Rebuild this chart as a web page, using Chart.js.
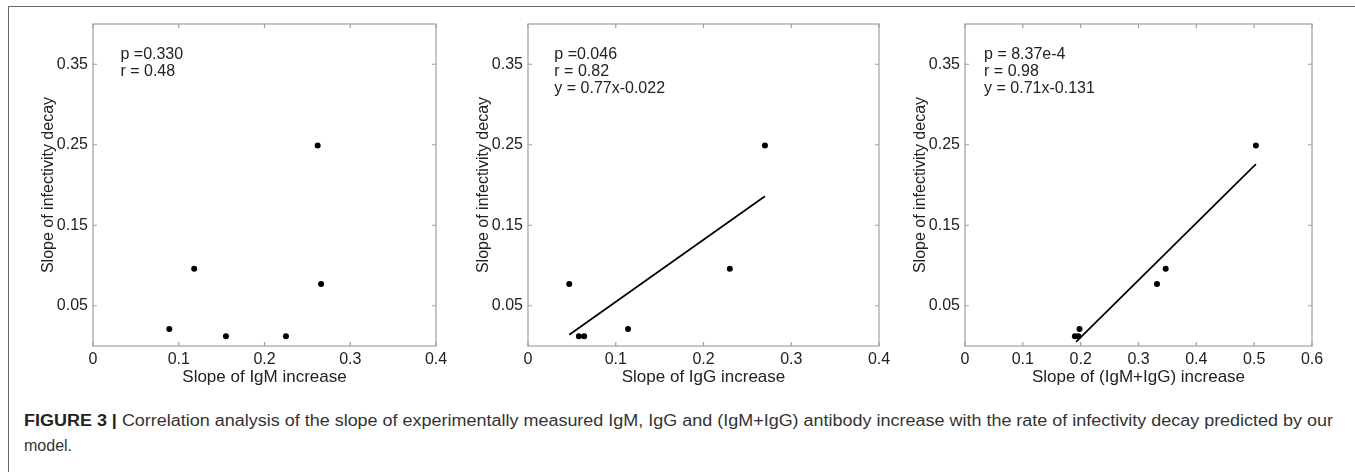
<!DOCTYPE html>
<html>
<head>
<meta charset="utf-8">
<script src="https://cdn.jsdelivr.net/npm/chart.js@4/dist/chart.umd.min.js"></script>
<style>
html, body { margin: 0; padding: 0; background: #fff; }
body { width: 1355px; height: 472px; position: relative; overflow: hidden;
       font-family: "Liberation Sans", Arial, Helvetica, sans-serif; }
#frame { position: absolute; left: 8px; top: 6px; width: 1347px; height: 466px;
         border-left: 1.5px solid #6a6a6a; border-top: 1.5px solid #6a6a6a; box-sizing: border-box; }
canvas.panel { position: absolute; top: 0; }
#caption { position: absolute; left: 24px; top: 408px; font-size: 16px; line-height: 25px;
           color: #333; white-space: nowrap; }
#caption .line { display: block; transform-origin: 0 0; }
#caption b { color: #222; }
</style>
</head>
<body>
<div id="frame"></div>
<canvas class="panel" id="c1" width="470" height="400" style="left:0px"></canvas>
<canvas class="panel" id="c2" width="460" height="400" style="left:440px"></canvas>
<canvas class="panel" id="c3" width="475" height="400" style="left:880px"></canvas>
<div id="caption">
  <span class="line" id="cap1"><b>FIGURE 3 |</b> Correlation analysis of the slope of experimentally measured IgM, IgG and (IgM+IgG) antibody increase with the rate of infectivity decay predicted by our</span>
  <span class="line">model.</span>
</div>
<script>
// data
var yTicks = [0.05, 0.15, 0.25, 0.35];
var yTickLabels = ['0.05', '0.15', '0.25', '0.35'];
var xTicks4 = [0, 0.1, 0.2, 0.3, 0.4];
var xTickLabels4 = ['0', '0.1', '0.2', '0.3', '0.4'];
var xTicks6 = [0, 0.1, 0.2, 0.3, 0.4, 0.5, 0.6];
var xTickLabels6 = ['0', '0.1', '0.2', '0.3', '0.4', '0.5', '0.6'];

var igmX = [0.089, 0.118, 0.155, 0.225, 0.266, 0.262];
var igmY = [0.021, 0.096, 0.012, 0.012, 0.077, 0.249];

var iggX = [0.047, 0.058, 0.064, 0.114, 0.230, 0.270];
var iggY = [0.077, 0.012, 0.012, 0.021, 0.096, 0.249];
var iggFitX = [0.047, 0.270];
var iggFitY = [0.014, 0.186];

var sumX = [0.190, 0.196, 0.198, 0.332, 0.347, 0.503];
var sumY = [0.012, 0.012, 0.021, 0.077, 0.096, 0.249];
var sumFitX = [0.192, 0.503];
var sumFitY = [0.005, 0.226];

var igmNotes = ['p =0.330', 'r = 0.48'];
var iggNotes = ['p =0.046', 'r = 0.82', 'y = 0.77x-0.022'];
var sumNotes = ['p = 8.37e-4', 'r = 0.98', 'y = 0.71x-0.131'];

var FONT = '"Liberation Sans", Arial, Helvetica, sans-serif';
var TEXT = '#222';

function pts(xs, ys) {
	var out = [];
	for (var i = 0; i < xs.length; i++) out.push({x: xs[i], y: ys[i]});
	return out;
}

// box round the plot, inward ticks on all sides, and the p / r / fit notes
var boxPlugin = {
	id: 'box',
	afterDraw: function (chart, args, opts) {
		var a = chart.chartArea, ctx = chart.ctx;
		var xs = chart.scales.x, ys = chart.scales.y;
		ctx.save();
		ctx.strokeStyle = '#a0a0a0';
		ctx.lineWidth = 1.2;
		ctx.strokeRect(a.left, a.top, a.right - a.left, a.bottom - a.top);
		ctx.beginPath();
		xs.ticks.forEach(function (t) {
			var px = xs.getPixelForValue(t.value);
			ctx.moveTo(px, a.bottom); ctx.lineTo(px, a.bottom - 4);
			ctx.moveTo(px, a.top); ctx.lineTo(px, a.top + 4);
		});
		ys.ticks.forEach(function (t) {
			var py = ys.getPixelForValue(t.value);
			ctx.moveTo(a.left, py); ctx.lineTo(a.left + 4, py);
			ctx.moveTo(a.right, py); ctx.lineTo(a.right - 4, py);
		});
		ctx.stroke();
		ctx.fillStyle = TEXT;
		ctx.font = '16px ' + FONT;
		ctx.textBaseline = 'middle';
		ctx.textAlign = 'left';
		var nx = xs.getPixelForValue(opts.noteX);
		var ny = ys.getPixelForValue(opts.noteY);
		opts.lines.forEach(function (s, i) {
			ctx.fillText(s, nx, ny + i * 17);
		});
		ctx.restore();
	}
};

function makePanel(id, cfg) {
	var datasets = [];
	if (cfg.fitX) {
		datasets.push({
			data: pts(cfg.fitX, cfg.fitY),
			showLine: true,
			borderColor: '#000',
			borderWidth: 1.7,
			pointRadius: 0,
			fill: false
		});
	}
	datasets.push({
		data: pts(cfg.x, cfg.y),
		backgroundColor: '#000',
		borderColor: '#000',
		pointRadius: 3,
		borderWidth: 0
	});
	new Chart(document.getElementById(id), {
		type: 'scatter',
		data: {datasets: datasets},
		options: {
			responsive: false,
			animation: false,
			devicePixelRatio: 1,
			layout: {padding: {top: 24, right: cfg.padRight, bottom: 0, left: 0}},
			plugins: {
				legend: {display: false},
				tooltip: {enabled: false},
				box: {lines: cfg.notes, noteX: cfg.noteX, noteY: 0.362}
			},
			scales: {
				x: {
					type: 'linear',
					min: 0, max: cfg.xMax,
					grid: {display: false, drawTicks: false},
					border: {display: false},
					afterBuildTicks: function (s) {
						s.ticks = cfg.xTicks.map(function (v) { return {value: v}; });
					},
					afterFit: function (s) { s.height = 54; },
					ticks: {
						padding: 4,
						color: TEXT,
						font: {family: FONT, size: 16},
						autoSkip: false,
						maxRotation: 0,
						callback: function (v) {
							return cfg.xLabels[cfg.xTicks.indexOf(v)];
						}
					},
					title: {
						display: true,
						text: cfg.xTitle,
						color: TEXT,
						font: {family: FONT, size: 17},
						padding: {top: 0, bottom: 12}
					}
				},
				y: {
					type: 'linear',
					min: 0, max: 0.4,
					grid: {display: false, drawTicks: false},
					border: {display: false},
					afterBuildTicks: function (s) {
						s.ticks = yTicks.map(function (v) { return {value: v}; });
					},
					afterFit: function (s) { s.width = cfg.yWidth; },
					ticks: {
						padding: 5,
						color: TEXT,
						font: {family: FONT, size: 16},
						callback: function (v) {
							return yTickLabels[yTicks.indexOf(v)];
						}
					},
					title: {
						display: true,
						text: 'Slope of infectivity decay',
						color: TEXT,
						font: {family: FONT, size: 16},
						padding: {top: cfg.yTitlePad, bottom: 0}
					}
				}
			}
		},
		plugins: [boxPlugin]
	});
}

makePanel('c1', {
	x: igmX, y: igmY, xMax: 0.4, xTicks: xTicks4, xLabels: xTickLabels4,
	xTitle: 'Slope of IgM increase', notes: igmNotes, noteX: 0.032,
	yWidth: 93, padRight: 34, yTitlePad: 38.5
});
makePanel('c2', {
	x: iggX, y: iggY, fitX: iggFitX, fitY: iggFitY, xMax: 0.4, xTicks: xTicks4, xLabels: xTickLabels4,
	xTitle: 'Slope of IgG increase', notes: iggNotes, noteX: 0.030,
	yWidth: 88, padRight: 21, yTitlePad: 33.5
});
makePanel('c3', {
	x: sumX, y: sumY, fitX: sumFitX, fitY: sumFitY, xMax: 0.6, xTicks: xTicks6, xLabels: xTickLabels6,
	xTitle: 'Slope of (IgM+IgG) increase', notes: sumNotes, noteX: 0.033,
	yWidth: 85, padRight: 43, yTitlePad: 31
});

// stretch the first caption line to the width it has in the figure
var cap1 = document.getElementById('cap1');
cap1.style.display = 'inline-block';
var w = cap1.getBoundingClientRect().width;
cap1.style.transform = 'scaleX(' + (1309 / w) + ')';
</script>
</body>
</html>
